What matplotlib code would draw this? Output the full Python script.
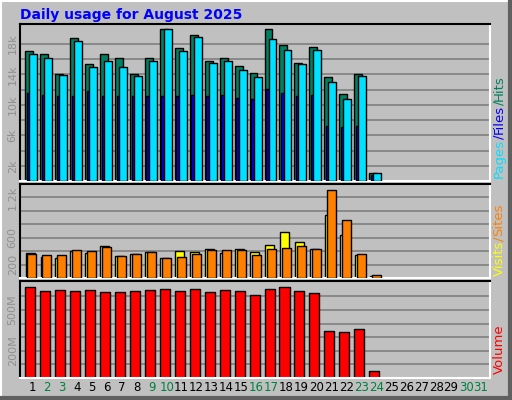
import numpy as np
import matplotlib
matplotlib.use('Agg')
import matplotlib.pyplot as plt

# data
days = np.arange(1, 32)
weekend = [2, 3, 9, 10, 16, 17, 23, 24, 30, 31]
hits = [17.0, 16.6, 14.1, 18.8, 15.4, 16.7, 16.1, 14.1, 16.1, 20.0, 17.4, 19.1, 15.8, 16.1,
        15.1, 14.2, 20.0, 17.9, 15.5, 17.6, 13.7, 11.4, 14.1, 1.0]
pages = [16.6, 16.1, 13.9, 18.4, 14.9, 15.8, 14.9, 13.8, 15.7, 19.9, 17.1, 18.9, 15.5, 15.7,
         14.6, 13.6, 18.6, 17.2, 15.3, 17.2, 13.0, 10.8, 13.8, 1.0]
files = [11.6, 11.3, 11.2, 11.1, 11.8, 11.2, 11.1, 11.1, 11.2, 11.2, 11.1, 11.3, 11.1, 11.3,
         10.9, 10.7, 12.1, 11.6, 11.1, 11.3, 7.2, 7.1, 7.2, 0.8]
visits = [375, 320, 300, 395, 375, 480, 330, 360, 390, 300, 405, 390, 435, 375, 435, 390,
          495, 690, 540, 435, 940, 645, 350, 35]
sites = [360, 350, 350, 420, 405, 455, 330, 360, 390, 300, 320, 360, 420, 420, 420, 350,
         435, 450, 480, 435, 1310, 870, 360, 50]
volume = [667, 637, 645, 637, 645, 630, 630, 637, 645, 652, 637, 652, 630, 645, 637, 608,
          652, 667, 637, 622, 343, 335, 358, 49]

BG = '#c0c0c0'
W, H = 512, 400
fig = plt.figure(figsize=(5.12, 4.0), dpi=100, facecolor=BG)

def px_axes(x0, y0, x1, y1):
    return fig.add_axes([x0 / W, 1 - y1 / H, (x1 - x0) / W, (y1 - y0) / H])

# outer bevel
fig.add_artist(plt.Line2D([0.5 / W, 0.5 / W], [0, 1], color='white', lw=1.5))
fig.add_artist(plt.Line2D([0, 1], [1 - 0.5 / H, 1 - 0.5 / H], color='white', lw=1.5))
fig.add_artist(plt.Line2D([1 - 2 / W, 1 - 2 / W], [0, 1], color='#606060', lw=3))
fig.add_artist(plt.Line2D([0, 1], [2 / H, 2 / H], color='#606060', lw=3))

def setup(ax, ymax, grid, labels):
    ax.set_facecolor(BG)
    ax.set_xlim(0.2, 31.6)
    ax.set_ylim(0, ymax)
    ax.set_xticks([])
    ax.set_yticks([])
    for g in grid:
        ax.axhline(g, color='#808080', lw=1.2, zorder=0)
    for v, s in labels:
        ax.text(-0.005, v, s, transform=ax.get_yaxis_transform(), rotation=90,
                ha='right', va='center', color='#909090', fontsize=8)
    ax.spines['left'].set_color('black')
    ax.spines['top'].set_color('black')
    ax.spines['right'].set_color('white')
    ax.spines['bottom'].set_color('white')
    for s in ax.spines.values():
        s.set_linewidth(1.5)

n = len(hits)
x = days[:n]
ek = dict(edgecolor='black', linewidth=1)

ax1 = px_axes(20, 24, 490, 181)
setup(ax1, 20.6, np.arange(2, 20, 2), [(2, '2k'), (6, '6k'), (10, '10k'), (14, '14k'), (18, '18k')])
ax1.bar(x - 0.2, hits, width=0.53, color='#008060', zorder=2, **ek)
ax1.bar(x - 0.25, files, width=0.2, color='#0000ff', zorder=3, **ek)
ax1.bar(x + 0.07, pages, width=0.53, color='#00e0ff', zorder=4, **ek)

ax2 = px_axes(20, 184, 490, 278)
setup(ax2, 1400, np.arange(200, 1400, 200), [(200, '200'), (600, '600'), (1200, '1.2k')])
ax2.bar(x - 0.13, visits, width=0.6, color='#ffff00', zorder=2, **ek)
ax2.bar(x + 0.0, sites, width=0.6, color='#ff8000', zorder=3, **ek)

ax3 = px_axes(20, 281, 490, 378)
setup(ax3, 713, np.arange(100, 700, 100), [(200, '200M'), (500, '500M')])
ax3.bar(x - 0.13, volume, width=0.67, color='#ff0000', zorder=2, **ek)

for d in days:
    ax3.text(d, -0.03, str(d), transform=ax3.get_xaxis_transform(), ha='center', va='top',
             fontsize=8.5, color='#008040' if d in weekend else 'black')

fig.text(20 / W, 1 - 15 / H, 'Daily usage for August 2025', color='#0000ff',
         fontsize=10, fontweight='bold', va='center', ha='left')

# multi-coloured right-side labels, stacked bottom to top
fig.canvas.draw()
r = fig.canvas.get_renderer()

def side_label(parts, ybottom):
    y = ybottom
    for s, c in parts:
        t = fig.text(499 / W, 1 - y / H, s, color=c, rotation=90, fontsize=9.5,
                     ha='center', va='bottom')
        bb = t.get_window_extent(r)
        y -= bb.height

side_label([('Pages', '#00e0ff'), ('/', '#0000ff'), ('Files', '#0000ff'), ('/', '#008060'),
            ('Hits', '#008060')], 178)
side_label([('Visits', '#ffff00'), ('/', '#ff8000'), ('Sites', '#ff8000')], 276)
side_label([('Volume', '#ff0000')], 374)

fig.savefig('out.png', dpi=100, facecolor=BG)
